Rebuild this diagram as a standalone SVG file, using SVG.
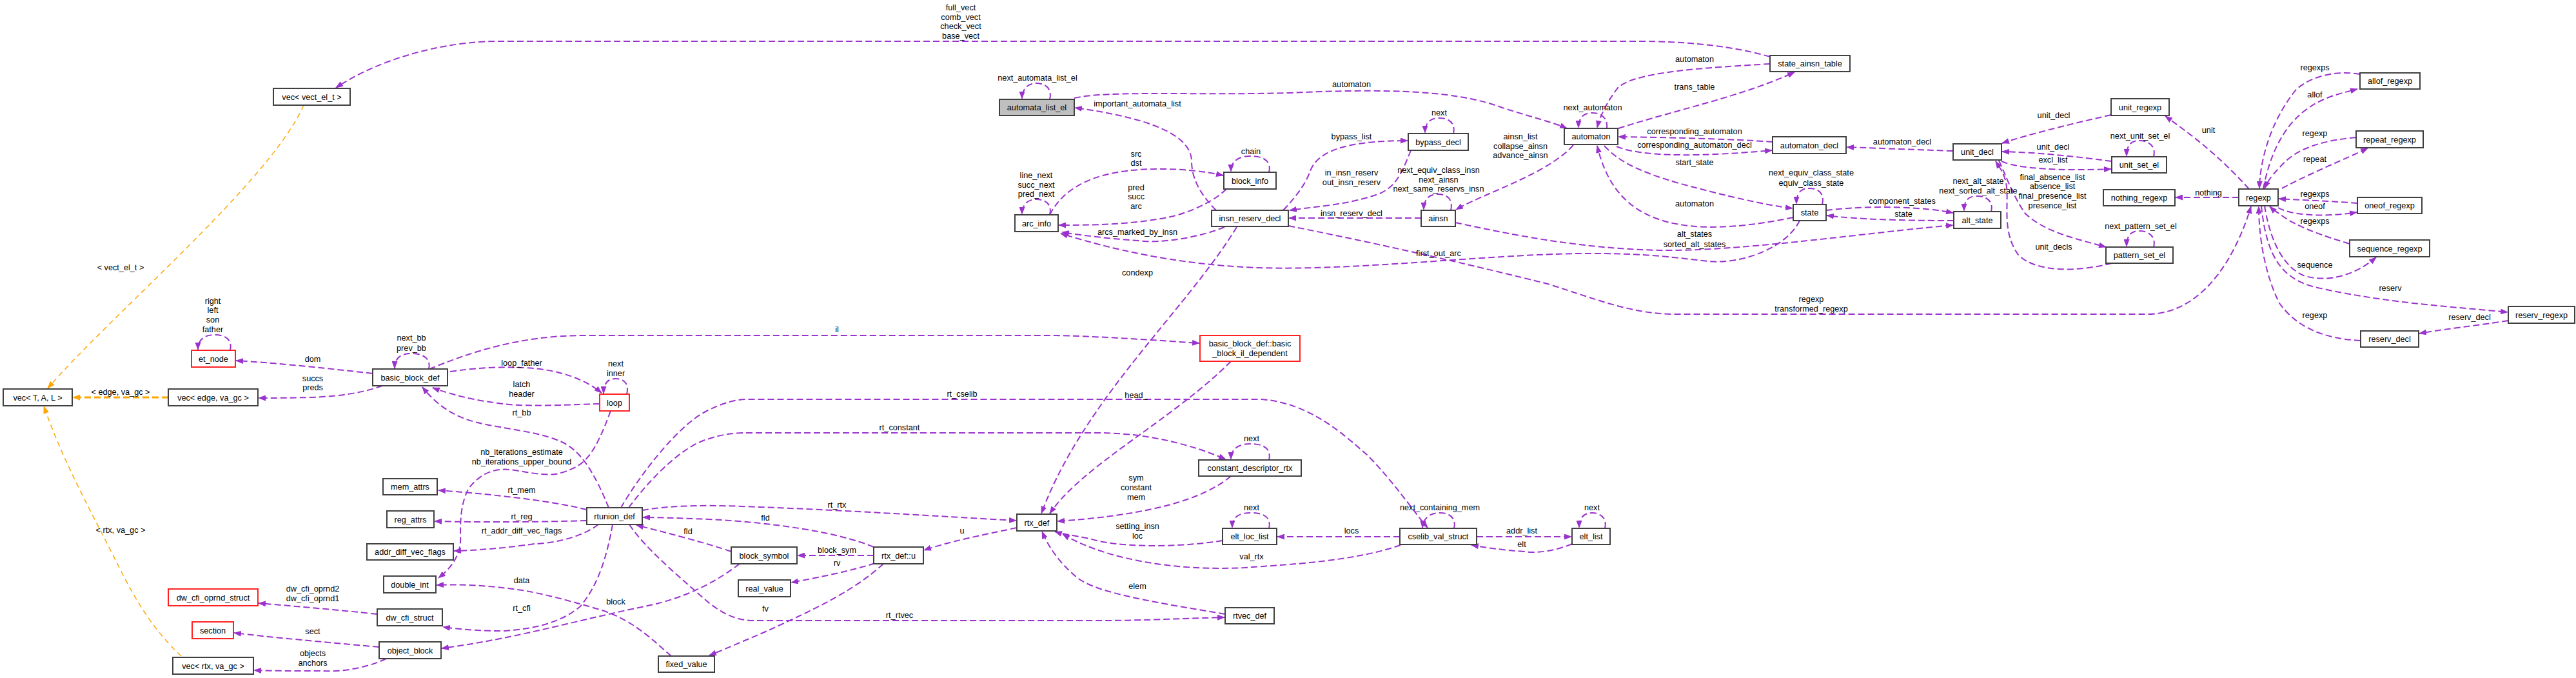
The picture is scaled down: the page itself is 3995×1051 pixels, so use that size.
<svg xmlns="http://www.w3.org/2000/svg" width="3995" height="1051" viewBox="0 0 3995 1051">
<style>
.n rect{fill:#fff;stroke:#404040;stroke-width:2}
.n.r rect{stroke:#ff2020}
.n.g rect{fill:#bfbfbf}
text{font-family:"Liberation Sans",Arial,Helvetica,sans-serif;font-size:12.7px;fill:#000;text-anchor:middle}
#edges path{fill:none;stroke:#9a32cd;stroke-width:2;stroke-dasharray:10,5;marker-end:url(#a)}
#edges path.o{stroke:#ffa500;stroke-width:1.5;stroke-dasharray:8,6;marker-end:url(#ao)}
#edges path.ot{stroke:#ffa500;stroke-width:3;stroke-dasharray:10,5;marker-end:url(#ao)}
</style>
<defs>
<marker id="a" viewBox="0 0 12 9" refX="11" refY="4.5" markerWidth="12" markerHeight="9" markerUnits="userSpaceOnUse" orient="auto"><path d="M0,0L12,4.5L0,9z" fill="#9a32cd"/></marker>
<marker id="ao" viewBox="0 0 12 9" refX="11" refY="4.5" markerWidth="12" markerHeight="9" markerUnits="userSpaceOnUse" orient="auto"><path d="M0,0L12,4.5L0,9z" fill="#ffa500"/></marker>
</defs>
<rect width="3995" height="1051" fill="#fff"/>
<g id="edges">
<path d="M2745,88 C2690,72 2620,64 2540,64 L772,64 C690,64 590,90 521,136"/>
<path d="M1628,154 C1632,138 1622,129 1607,129 C1594,129 1585,138 1585,153"/>
<path d="M1666,152 C1720,140 1850,148 2000,144 C2150,137 2260,140 2330,167 C2380,183 2410,190 2430,199"/>
<path d="M1886,326 C1860,300 1848,275 1848,250 C1848,215 1800,185 1667,167"/>
<path d="M1628,333 C1650,290 1700,262 1797,262 C1840,262 1870,266 1897,272"/>
<path d="M1968,267 C1972,250 1960,242 1940,242 C1920,242 1909,250 1909,266"/>
<path d="M1628,333 C1632,317 1622,309 1607,309 C1594,309 1585,317 1585,332"/>
<path d="M1902,293 C1880,315 1840,330 1820,335 C1760,348 1700,349 1642,349"/>
<path d="M1899,352 C1860,368 1800,378 1765,373 C1720,370 1680,365 1647,360"/>
<path d="M2791,342 C2770,385 2700,410 2650,405 C2600,400 2560,392 2450,393 C2300,395 2100,420 1950,415 C1820,410 1720,385 1645,362"/>
<path d="M2745,99 C2650,105 2540,110 2510,135 C2490,160 2480,185 2477,198"/>
<path d="M2510,199 C2600,170 2700,150 2783,112"/>
<path d="M2492,199 C2494,182 2482,175 2469,175 C2456,175 2448,182 2448,198"/>
<path d="M2254,207 C2258,190 2246,183 2232,183 C2218,183 2210,190 2210,206"/>
<path d="M1990,326 C2010,305 2025,285 2032,265 C2045,230 2100,218 2183,218"/>
<path d="M2188,233 C2170,280 2160,290 2140,300 C2090,318 2040,320 2000,326"/>
<path d="M2250,326 C2254,309 2244,301 2230,301 C2216,301 2208,309 2208,325"/>
<path d="M2204,338 L1999,338"/>
<path d="M2440,225 C2400,270 2300,300 2258,325"/>
<path d="M2749,220 C2680,215 2580,213 2510,212"/>
<path d="M2507,227 C2550,245 2650,242 2748,233"/>
<path d="M3029,234 C2970,232 2920,230 2864,228"/>
<path d="M2488,226 C2510,250 2540,265 2600,283 C2680,305 2740,318 2780,323"/>
<path d="M2781,337 C2720,350 2660,355 2620,350 C2520,340 2490,280 2477,226"/>
<path d="M2826,317 C2830,300 2820,292 2806,292 C2792,292 2786,300 2786,316"/>
<path d="M2832,326 C2900,318 2980,320 3029,330"/>
<path d="M3030,342 C2950,342 2880,340 2833,334"/>
<path d="M2257,345 C2350,365 2450,385 2574,388 C2700,390 2900,360 3029,349"/>
<path d="M3088,328 C3092,311 3080,304 3066,304 C3052,304 3046,311 3046,327"/>
<path d="M3274,178 C3200,195 3140,210 3105,222"/>
<path d="M3275,250 C3200,240 3150,236 3105,235"/>
<path d="M3104,250 C3130,262 3200,265 3274,262"/>
<path d="M3340,243 C3344,226 3332,218 3318,218 C3304,218 3298,226 3298,242"/>
<path d="M3100,249 C3110,270 3120,300 3140,330 C3170,360 3220,370 3266,383"/>
<path d="M3275,408 C3230,420 3160,425 3130,395 C3105,360 3115,320 3112,290 C3110,270 3100,258 3095,250"/>
<path d="M3340,383 C3344,366 3332,358 3318,358 C3304,358 3298,366 3298,382"/>
<path d="M3660,115 C3620,108 3580,120 3560,140 C3520,190 3505,250 3504,292"/>
<path d="M3510,293 C3520,240 3540,200 3570,175 C3600,150 3630,145 3656,138"/>
<path d="M3488,293 C3440,240 3400,210 3358,180"/>
<path d="M3654,213 C3600,218 3560,230 3535,260 C3520,275 3515,285 3512,292"/>
<path d="M3539,292 C3580,270 3640,245 3672,230"/>
<path d="M3472,306 L3374,306"/>
<path d="M3656,315 C3620,312 3570,310 3534,308"/>
<path d="M3533,322 C3560,337 3620,335 3655,329"/>
<path d="M3644,378 C3600,365 3560,350 3540,335 C3530,328 3524,324 3520,320"/>
<path d="M3512,319 C3520,370 3540,415 3575,428 C3620,440 3660,420 3685,399"/>
<path d="M3507,319 C3515,400 3540,432 3590,445 C3700,470 3800,475 3889,484"/>
<path d="M3890,497 C3840,505 3790,510 3752,517"/>
<path d="M3661,528 C3600,525 3560,505 3535,470 C3510,420 3503,360 3503,320"/>
<path d="M1998,350 C2150,380 2300,415 2400,440 C2480,465 2530,487 2600,487 L3330,487 C3420,487 3470,390 3491,320"/>
<path d="M1918,352 C1840,480 1680,620 1615,796"/>
<path d="M666,572 C720,550 800,520 906,520 L1638,520 C1720,522 1800,528 1860,532"/>
<path d="M1909,560 C1820,650 1680,720 1628,796"/>
<path d="M963,787 C990,740 1050,660 1096,637 C1120,625 1140,619 1160,619 L1957,619 C2030,625 2080,670 2120,705 C2160,745 2190,790 2214,818"/>
<path d="M975,787 C1010,740 1060,690 1100,680 C1120,673 1140,671 1160,671 L1702,671 C1780,671 1850,690 1901,712"/>
<path d="M1968,713 C1972,696 1960,688 1940,688 C1920,688 1909,696 1909,712"/>
<path d="M1909,738 C1860,780 1760,800 1640,808"/>
<path d="M996,791 C1030,785 1080,782 1150,785 C1300,790 1450,800 1576,807"/>
<path d="M1355,848 C1300,825 1200,810 1100,805 C1050,803 1020,802 997,802"/>
<path d="M1134,855 C1090,840 1030,825 987,814"/>
<path d="M1577,818 C1520,830 1470,840 1433,853"/>
<path d="M1355,861 L1237,861"/>
<path d="M1357,873 C1320,885 1270,895 1227,903"/>
<path d="M1370,874 C1320,920 1250,950 1190,978 C1150,995 1120,1008 1100,1016"/>
<path d="M976,813 C1000,850 1060,900 1100,935 C1120,950 1140,962 1170,962 L1702,962 C1780,962 1850,958 1899,957"/>
<path d="M1900,952 C1800,935 1700,920 1670,895 C1640,870 1625,845 1616,824"/>
<path d="M1968,819 C1972,802 1960,795 1940,795 C1920,795 1911,802 1911,818"/>
<path d="M1896,838 C1820,850 1730,848 1690,835 C1665,830 1645,827 1636,824"/>
<path d="M2172,845 C2100,870 2000,875 1930,880 C1830,885 1720,870 1648,828"/>
<path d="M2171,832 L1981,832"/>
<path d="M2255,819 C2259,802 2247,795 2233,795 C2219,795 2207,802 2206,818"/>
<path d="M2290,832 L2437,832"/>
<path d="M2438,843 C2410,855 2380,858 2364,855 C2330,853 2300,848 2282,845"/>
<path d="M2489,819 C2493,802 2481,795 2469,795 C2457,795 2449,802 2449,818"/>
<path d="M910,790 C850,775 750,765 680,760"/>
<path d="M910,807 C850,809 750,810 674,808"/>
<path d="M928,813 C900,835 850,843 829,843 C780,850 740,853 704,854"/>
<path d="M947,637 C935,670 925,690 918,700 C905,720 890,727 870,733 C850,740 810,730 790,728 C760,725 740,740 727,757 C714,780 714,810 714,830 C716,860 700,880 680,896"/>
<path d="M1041,1017 C1010,990 980,960 930,945 C880,930 840,920 810,915 C760,908 720,905 677,907"/>
<path d="M1147,874 C1100,910 1050,930 1000,940 C900,960 800,990 685,1005"/>
<path d="M950,813 C940,870 925,910 900,940 C870,965 830,975 780,978 C740,978 710,975 687,972"/>
<path d="M585,952 C520,945 460,940 401,935"/>
<path d="M588,1003 C500,995 420,988 363,981"/>
<path d="M599,1021 C570,1035 530,1042 500,1040 C460,1040 420,1040 394,1039"/>
<path class="o" d="M281,1017 C230,970 200,910 180,870 C140,790 100,720 68,630"/>
<path class="o" d="M471,163 C420,280 170,490 74,602"/>
<path class="ot" d="M261,616 L113,616"/>
<path d="M593,598 C560,610 520,615 480,616 C440,617 420,617 401,617"/>
<path d="M578,579 C500,570 420,562 366,559"/>
<path d="M357,543 C361,526 349,519 333,519 C317,519 307,526 307,542"/>
<path d="M665,572 C669,555 655,548 638,548 C621,548 612,555 612,571"/>
<path d="M698,576 C740,570 780,568 810,570 C870,572 910,590 933,609"/>
<path d="M930,626 C870,628 820,630 790,627 C740,622 700,612 671,601"/>
<path d="M972,611 C976,595 968,587 955,587 C942,587 936,595 936,610"/>
<path d="M944,787 C925,740 905,705 880,690 C850,670 780,665 740,655 C700,645 675,625 655,600"/>
</g>
<g id="labels">
<text x="1490" y="16">full_vect</text>
<text x="1490" y="31">comb_vect</text>
<text x="1490" y="45">check_vect</text>
<text x="1490" y="60">base_vect</text>
<text x="1609" y="125">next_automata_list_el</text>
<text x="2096" y="135">automaton</text>
<text x="1764" y="165">important_automata_list</text>
<text x="1762" y="243">src</text>
<text x="1762" y="257">dst</text>
<text x="1940" y="239">chain</text>
<text x="1607" y="276">line_next</text>
<text x="1607" y="291">succ_next</text>
<text x="1607" y="305">pred_next</text>
<text x="1762" y="295">pred</text>
<text x="1762" y="309">succ</text>
<text x="1762" y="324">arc</text>
<text x="1764" y="364">arcs_marked_by_insn</text>
<text x="2231" y="397">first_out_arc</text>
<text x="2628" y="96">automaton</text>
<text x="2628" y="139">trans_table</text>
<text x="2470" y="171">next_automaton</text>
<text x="2232" y="179">next</text>
<text x="2096" y="216">bypass_list</text>
<text x="2096" y="272">in_insn_reserv</text>
<text x="2096" y="287">out_insn_reserv</text>
<text x="2231" y="268">next_equiv_class_insn</text>
<text x="2231" y="283">next_ainsn</text>
<text x="2231" y="297">next_same_reservs_insn</text>
<text x="2096" y="335">insn_reserv_decl</text>
<text x="2358" y="216">ainsn_list</text>
<text x="2358" y="231">collapse_ainsn</text>
<text x="2358" y="245">advance_ainsn</text>
<text x="2628" y="208">corresponding_automaton</text>
<text x="2628" y="229">corresponding_automaton_decl</text>
<text x="2950" y="224">automaton_decl</text>
<text x="2628" y="256">start_state</text>
<text x="2628" y="320">automaton</text>
<text x="2809" y="272">next_equiv_class_state</text>
<text x="2809" y="288">equiv_class_state</text>
<text x="2950" y="316">component_states</text>
<text x="2952" y="336">state</text>
<text x="2628" y="367">alt_states</text>
<text x="2628" y="383">sorted_alt_states</text>
<text x="3068" y="285">next_alt_state</text>
<text x="3068" y="300">next_sorted_alt_state</text>
<text x="3185" y="183">unit_decl</text>
<text x="3184" y="232">unit_decl</text>
<text x="3184" y="252">excl_list</text>
<text x="3319" y="215">next_unit_set_el</text>
<text x="3183" y="279">final_absence_list</text>
<text x="3183" y="293">absence_list</text>
<text x="3183" y="308">final_presence_list</text>
<text x="3183" y="323">presence_list</text>
<text x="3185" y="387">unit_decls</text>
<text x="3320" y="355">next_pattern_set_el</text>
<text x="3590" y="109">regexps</text>
<text x="3590" y="151">allof</text>
<text x="3425" y="206">unit</text>
<text x="3590" y="211">regexp</text>
<text x="3590" y="251">repeat</text>
<text x="3425" y="303">nothing</text>
<text x="3590" y="305">regexps</text>
<text x="3590" y="324">oneof</text>
<text x="3590" y="347">regexps</text>
<text x="3590" y="415">sequence</text>
<text x="3707" y="451">reserv</text>
<text x="3830" y="496">reserv_decl</text>
<text x="3590" y="493">regexp</text>
<text x="2809" y="468">regexp</text>
<text x="2809" y="483">transformed_regexp</text>
<text x="1764" y="427">condexp</text>
<text x="1298" y="515">il</text>
<text x="1762" y="617">head_</text>
<text x="1492" y="615">rt_cselib</text>
<text x="1395" y="667">rt_constant</text>
<text x="1941" y="684">next</text>
<text x="1762" y="745">sym</text>
<text x="1762" y="760">constant</text>
<text x="1762" y="775">mem</text>
<text x="1298" y="787">rt_rtx</text>
<text x="1187" y="807">fld</text>
<text x="1067" y="828">fld</text>
<text x="1492" y="827">u</text>
<text x="1298" y="857">block_sym</text>
<text x="1298" y="877">rv</text>
<text x="1187" y="948">fv</text>
<text x="1395" y="958">rt_rtvec</text>
<text x="1764" y="913">elem</text>
<text x="1941" y="791">next</text>
<text x="1764" y="820">setting_insn</text>
<text x="1764" y="835">loc</text>
<text x="1941" y="867">val_rtx</text>
<text x="2096" y="827">locs</text>
<text x="2233" y="791">next_containing_mem</text>
<text x="2360" y="827">addr_list</text>
<text x="2360" y="848">elt</text>
<text x="2469" y="791">next</text>
<text x="809" y="764">rt_mem</text>
<text x="809" y="805">rt_reg</text>
<text x="809" y="827">rt_addr_diff_vec_flags</text>
<text x="809" y="705">nb_iterations_estimate</text>
<text x="809" y="720">nb_iterations_upper_bound</text>
<text x="809" y="904">data</text>
<text x="955" y="937">block</text>
<text x="809" y="947">rt_cfi</text>
<text x="485" y="917">dw_cfi_oprnd2</text>
<text x="485" y="932">dw_cfi_oprnd1</text>
<text x="485" y="983">sect</text>
<text x="485" y="1017">objects</text>
<text x="485" y="1032">anchors</text>
<text x="187" y="826">&lt; rtx, va_gc &gt;</text>
<text x="187" y="419">&lt; vect_el_t &gt;</text>
<text x="187" y="612">&lt; edge, va_gc &gt;</text>
<text x="485" y="591">succs</text>
<text x="485" y="605">preds</text>
<text x="485" y="561">dom</text>
<text x="330" y="471">right</text>
<text x="330" y="485">left</text>
<text x="330" y="500">son</text>
<text x="330" y="515">father</text>
<text x="638" y="528">next_bb</text>
<text x="638" y="544">prev_bb</text>
<text x="809" y="567">loop_father</text>
<text x="809" y="600">latch</text>
<text x="809" y="615">header</text>
<text x="955" y="568">next</text>
<text x="955" y="583">inner</text>
<text x="809" y="644">rt_bb</text>
</g>
<g id="vec_vect_el_t" class="n"><rect x="424" y="137" width="119" height="26"/><text x="483.5" y="154.5">vec&lt; vect_el_t &gt;</text></g>
<g id="automata_list_el" class="n g"><rect x="1550" y="154" width="116" height="25"/><text x="1608" y="171">automata_list_el</text></g>
<g id="block_info" class="n"><rect x="1898" y="267" width="81" height="26"/><text x="1938.5" y="284.5">block_info</text></g>
<g id="arc_info" class="n"><rect x="1574" y="333" width="67" height="26"/><text x="1607.5" y="350.5">arc_info</text></g>
<g id="insn_reserv_decl" class="n"><rect x="1879" y="326" width="119" height="25"/><text x="1938.5" y="343">insn_reserv_decl</text></g>
<g id="state_ainsn_table" class="n"><rect x="2745" y="86" width="124" height="25"/><text x="2807" y="103">state_ainsn_table</text></g>
<g id="automaton" class="n"><rect x="2426" y="199" width="83" height="25"/><text x="2467.5" y="216">automaton</text></g>
<g id="bypass_decl" class="n"><rect x="2184" y="207" width="93" height="26"/><text x="2230.5" y="224.5">bypass_decl</text></g>
<g id="ainsn" class="n"><rect x="2204" y="326" width="53" height="25"/><text x="2230.5" y="343">ainsn</text></g>
<g id="automaton_decl" class="n"><rect x="2749" y="212" width="114" height="26"/><text x="2806" y="229.5">automaton_decl</text></g>
<g id="state" class="n"><rect x="2781" y="317" width="51" height="25"/><text x="2806.5" y="334">state</text></g>
<g id="unit_decl" class="n"><rect x="3029" y="223" width="75" height="25"/><text x="3066.5" y="240">unit_decl</text></g>
<g id="unit_set_el" class="n"><rect x="3275" y="243" width="85" height="25"/><text x="3317.5" y="260">unit_set_el</text></g>
<g id="nothing_regexp" class="n"><rect x="3262" y="294" width="111" height="25"/><text x="3317.5" y="311">nothing_regexp</text></g>
<g id="alt_state" class="n"><rect x="3030" y="328" width="73" height="26"/><text x="3066.5" y="345.5">alt_state</text></g>
<g id="pattern_set_el" class="n"><rect x="3266" y="383" width="104" height="25"/><text x="3318" y="400">pattern_set_el</text></g>
<g id="unit_regexp" class="n"><rect x="3274" y="153" width="90" height="26"/><text x="3319" y="170.5">unit_regexp</text></g>
<g id="allof_regexp" class="n"><rect x="3660" y="113" width="93" height="25"/><text x="3706.5" y="130">allof_regexp</text></g>
<g id="repeat_regexp" class="n"><rect x="3654" y="203" width="104" height="26"/><text x="3706" y="220.5">repeat_regexp</text></g>
<g id="regexp" class="n"><rect x="3472" y="293" width="61" height="26"/><text x="3502.5" y="310.5">regexp</text></g>
<g id="oneof_regexp" class="n"><rect x="3656" y="306" width="100" height="25"/><text x="3706" y="323">oneof_regexp</text></g>
<g id="sequence_regexp" class="n"><rect x="3644" y="372" width="124" height="26"/><text x="3706" y="389.5">sequence_regexp</text></g>
<g id="reserv_regexp" class="n"><rect x="3890" y="475" width="103" height="26"/><text x="3941.5" y="492.5">reserv_regexp</text></g>
<g id="reserv_decl" class="n"><rect x="3661" y="513" width="90" height="25"/><text x="3706" y="530">reserv_decl</text></g>
<g id="vec_T_A_L" class="n"><rect x="5" y="603" width="107" height="26"/><text x="58.5" y="620.5">vec&lt; T, A, L &gt;</text></g>
<g id="vec_edge_va_gc" class="n"><rect x="261" y="603" width="139" height="26"/><text x="330.5" y="620.5">vec&lt; edge, va_gc &gt;</text></g>
<g id="et_node" class="n r"><rect x="297" y="543" width="68" height="26"/><text x="331" y="560.5">et_node</text></g>
<g id="basic_block_def" class="n"><rect x="578" y="572" width="116" height="26"/><text x="636" y="589.5">basic_block_def</text></g>
<g id="loop" class="n r"><rect x="930" y="611" width="46" height="26"/><text x="953" y="628.5">loop</text></g>
<g id="basic_block_il_dependent" class="n r"><rect x="1861" y="520" width="155" height="40"/><text x="1938.5" y="536.5">basic_block_def::basic</text><text x="1938.5" y="551.5">_block_il_dependent</text></g>
<g id="constant_descriptor_rtx" class="n"><rect x="1859" y="713" width="159" height="25"/><text x="1938.5" y="730">constant_descriptor_rtx</text></g>
<g id="rtx_def" class="n"><rect x="1577" y="797" width="62" height="26"/><text x="1608" y="814.5">rtx_def</text></g>
<g id="block_symbol" class="n"><rect x="1134" y="848" width="102" height="26"/><text x="1185" y="865.5">block_symbol</text></g>
<g id="rtx_def_u" class="n"><rect x="1355" y="848" width="77" height="26"/><text x="1393.5" y="865.5">rtx_def::u</text></g>
<g id="real_value" class="n"><rect x="1145" y="899" width="81" height="26"/><text x="1185.5" y="916.5">real_value</text></g>
<g id="fixed_value" class="n"><rect x="1021" y="1017" width="87" height="25"/><text x="1064.5" y="1034">fixed_value</text></g>
<g id="rtvec_def" class="n"><rect x="1900" y="942" width="76" height="25"/><text x="1938" y="959">rtvec_def</text></g>
<g id="elt_loc_list" class="n"><rect x="1896" y="819" width="84" height="25"/><text x="1938" y="836">elt_loc_list</text></g>
<g id="cselib_val_struct" class="n"><rect x="2171" y="819" width="119" height="25"/><text x="2230.5" y="836">cselib_val_struct</text></g>
<g id="elt_list" class="n"><rect x="2438" y="819" width="59" height="25"/><text x="2467.5" y="836">elt_list</text></g>
<g id="mem_attrs" class="n"><rect x="594" y="742" width="84" height="25"/><text x="636" y="759">mem_attrs</text></g>
<g id="reg_attrs" class="n"><rect x="600" y="792" width="73" height="26"/><text x="636.5" y="809.5">reg_attrs</text></g>
<g id="addr_diff_vec_flags" class="n"><rect x="569" y="843" width="134" height="25"/><text x="636" y="860">addr_diff_vec_flags</text></g>
<g id="double_int" class="n"><rect x="595" y="893" width="81" height="26"/><text x="635.5" y="910.5">double_int</text></g>
<g id="rtunion_def" class="n"><rect x="910" y="787" width="86" height="26"/><text x="953" y="804.5">rtunion_def</text></g>
<g id="dw_cfi_oprnd_struct" class="n r"><rect x="261" y="913" width="139" height="26"/><text x="330.5" y="930.5">dw_cfi_oprnd_struct</text></g>
<g id="dw_cfi_struct" class="n"><rect x="585" y="944" width="101" height="26"/><text x="635.5" y="961.5">dw_cfi_struct</text></g>
<g id="section" class="n r"><rect x="298" y="964" width="64" height="26"/><text x="330" y="981.5">section</text></g>
<g id="object_block" class="n"><rect x="588" y="995" width="96" height="26"/><text x="636" y="1012.5">object_block</text></g>
<g id="vec_rtx_va_gc" class="n"><rect x="268" y="1019" width="125" height="26"/><text x="330.5" y="1036.5">vec&lt; rtx, va_gc &gt;</text></g>
</svg>
